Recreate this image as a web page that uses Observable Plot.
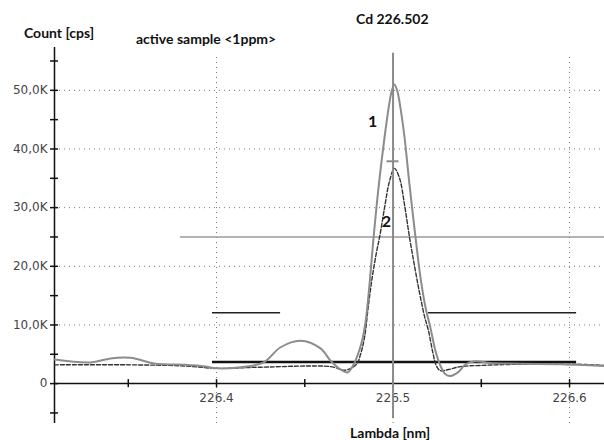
<!DOCTYPE html>
<html><head><meta charset="utf-8">
<script src="https://cdn.jsdelivr.net/npm/d3@7"></script>
<script src="https://cdn.jsdelivr.net/npm/@observablehq/plot@0.6"></script>
<style>
body{margin:0;background:#fff;}
#wrap{position:relative;width:604px;height:440px;overflow:hidden;font-family:Lato,"Liberation Sans",sans-serif;}
.t{position:absolute;font-weight:bold;color:#111;white-space:nowrap;font-size:14px;line-height:14px;}
</style></head>
<body><div id="wrap">
<div class="t" style="left:24px;top:26px;">Count [cps]</div>
<div class="t" style="left:136px;top:32px;">active sample &lt;1ppm&gt;</div>
<div class="t" style="left:356px;top:12px;">Cd 226.502</div>
<div class="t" style="left:350px;top:426px;">Lambda [nm]</div>
</div>
<script>
// Curve 1 (solid): wavelength [nm], counts [K cps]
const c1Lambda = [226.3082,226.3286,226.3399,226.3513,226.3654,226.3824,226.3938,226.4000,226.4136,226.4266,226.4363,226.4476,226.4589,226.4646,226.4703,226.4742,226.4776,226.4799,226.4822,226.4844,226.4867,226.4890,226.4918,226.4952,226.4975,226.4992,226.5008,226.5025,226.5042,226.5065,226.5093,226.5127,226.5156,226.5184,226.5212,226.5241,226.5269,226.5297,226.5326,226.5371,226.5411,226.5467,226.5552,226.5722,226.5949,226.6040,226.6198];
const c1Count  = [4.1,3.6,4.3,4.4,3.4,3.2,2.9,2.6,2.8,3.6,6.2,7.3,6.0,3.9,2.4,1.9,3.2,4.8,7,10.5,17,25,33.5,42,47,49.8,51,49.8,47,42,34,25,18,13,9.5,5.5,3,1.6,1.3,2.0,3.3,3.8,3.5,3.4,3.3,3.2,3.0];
// Curve 2 (dashed)
const c2Lambda = [226.3082,226.3513,226.3824,226.4000,226.4249,226.4646,226.4731,226.4793,226.4816,226.4839,226.4861,226.4884,226.4907,226.4924,226.4952,226.4980,226.5008,226.5037,226.5065,226.5093,226.5122,226.5150,226.5178,226.5201,226.5224,226.5246,226.5269,226.5314,226.5382,226.5496,226.5722,226.6040,226.6198];
const c2Count  = [3.2,3.2,3.0,2.6,2.8,2.9,2.3,3.3,5,8,13.5,18.5,22.5,25,30,34.5,36.7,35,30.5,25,20,15.5,11.5,9,5.5,3,2.2,2.4,2.9,3.1,3.3,3.3,3.1];
// Axis ticks
const yTicks = [0,10,20,30,40,50];
const yMinorTicks = [-5,0,5,10,15,20,25,30,35,40,45,50,55];
const xTicks = [226.4,226.5,226.6];
const xMinorTicks = [226.35,226.4,226.45,226.5,226.55,226.6];
// Markers
const lineCd = 226.5;            // vertical line
const lineCdY = [-6.0, 56.3];
const hLine25 = {y:25, x1:226.3796, x2:226.6198};
const bgWinLeft = {y:12.1, x1:226.3977, x2:226.4363};
const bgWinRight = {y:12.1, x1:226.5201, x2:226.6040};
const baseLine = {y:3.7, x1:226.3977, x2:226.6040};
const peakMark = {y:37.9, x:226.5};
const labels = [{x:226.4884, y:44.7, t:"1"},{x:226.4963, y:27.6, t:"2"}];

const xDom = [226.3082, 226.6198];
const yDom = [-6.8, 57.3];
const c1 = c1Lambda.map((x,i)=>({x, y:c1Count[i]}));
const c2 = c2Lambda.map((x,i)=>({x, y:c2Count[i]}));
const fmt = d => d===0 ? "0" : d.toFixed(1).replace(".", ",") + "K";

const chart = Plot.plot({
  width:604, height:440,
  marginLeft:54, marginRight:0, marginTop:47, marginBottom:17,
  x:{domain:xDom, axis:null},
  y:{domain:yDom, axis:null},
  style:{fontFamily:"DejaVu Sans, sans-serif", background:"transparent"},
  marks:[
    // dotted grid
    Plot.ruleY([10,20,30,40,50], {y:d=>d, stroke:"#777", strokeWidth:1, strokeDasharray:"1,4"}),
    Plot.ruleX(xTicks, {x:d=>d, y1:yDom[0], y2:yDom[1], insetBottom:-8, stroke:"#777", strokeWidth:1, strokeDasharray:"1,4"}),
    // horizontal gray line
    Plot.ruleY([hLine25], {y:"y", x1:"x1", x2:"x2", stroke:"#9a9a9a", strokeWidth:1.5}),
    // axes
    Plot.ruleX([xDom[0]], {x:d=>d, y1:yDom[0], y2:yDom[1], stroke:"#111", strokeWidth:1.5}),
    Plot.ruleY([0], {y:d=>d, stroke:"#111", strokeWidth:1.5}),
    Plot.ruleY(yMinorTicks, {y:d=>d, x1:xDom[0], x2:xDom[0], insetLeft:-4, insetRight:-4, stroke:"#111", strokeWidth:1.5}),
    Plot.ruleX(xMinorTicks, {x:d=>d, y1:0, y2:0, insetTop:-4, insetBottom:-4, stroke:"#111", strokeWidth:1.5}),
    Plot.text(yTicks, {x:xDom[0], y:d=>d, text:fmt, dx:-7, textAnchor:"end", fontSize:12, fill:"#444", letterSpacing:0.4}),
    Plot.text(xTicks, {x:d=>d, y:0, text:d=>d.toFixed(1), dy:15, fontSize:12, fill:"#444", letterSpacing:0.6}),
    // background windows & baseline
    Plot.ruleY([bgWinLeft, bgWinRight], {y:"y", x1:"x1", x2:"x2", stroke:"#222", strokeWidth:1.5}),
    Plot.ruleY([baseLine], {y:"y", x1:"x1", x2:"x2", stroke:"#111", strokeWidth:2.5}),
    // curves
    Plot.line(c2, {x:"x", y:"y", stroke:"#333", strokeWidth:1.4, strokeDasharray:"4,2", curve:"catmull-rom"}),
    Plot.line(c1, {x:"x", y:"y", stroke:"#8c8c8c", strokeWidth:2, curve:"catmull-rom"}),
    // vertical Cd line
    Plot.ruleX([lineCd], {x:d=>d, y1:lineCdY[0], y2:lineCdY[1], stroke:"#8a8a8a", strokeWidth:2}),
    Plot.ruleY([peakMark], {y:"y", x1:"x", x2:"x", insetLeft:-6, insetRight:-6, stroke:"#8a8a8a", strokeWidth:2}),
    // labels
    Plot.text(labels, {x:"x", y:"y", text:"t", fontSize:16, fontWeight:"bold", fill:"#111", fontFamily:"Lato, sans-serif"})
  ]
});
chart.style.position = "absolute";
chart.style.left = "0px";
chart.style.top = "0px";
document.getElementById("wrap").prepend(chart);
</script>
</body></html>
